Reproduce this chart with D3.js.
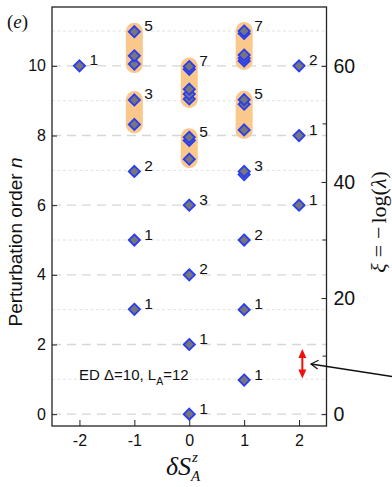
<!DOCTYPE html>
<html><head><meta charset="utf-8">
<script src="https://cdn.jsdelivr.net/npm/d3@7/dist/d3.min.js"></script>
<style>body{margin:0;background:#fff}svg{display:block}</style>
</head><body><svg id="c" width="392" height="487"></svg>
<script>
// ---- data ----
const xTicks = [-2, -1, 0, 1, 2];
const nTicks = [0, 2, 4, 6, 8, 10];
const xiTicks = [0, 20, 40, 60];
const xiMinor = [10, 30, 50];
const gridN = [0,1,2,3,4,5,6,7,8,9,10,11];
// groups: dS, perturbation levels (n), degeneracy label, highlighted cluster
const groupX = [-2, -1, -1, -1, -1, -1, 0, 0, 0, 0, 0, 0, 1, 1, 1, 1, 1, 1, 2, 2, 2];
const groupN = [
  [10],
  [10.98, 10.29, 10.05], [9.02, 8.32], [6.97], [5.0], [3.01],
  [9.98, 9.9, 9.33, 9.19, 9.05], [7.95, 7.86, 7.32], [6.0], [4.0], [2.0], [0.0],
  [11.0, 10.93, 10.31, 10.22, 10.14], [9.03, 8.9, 8.16], [6.97, 6.88], [5.0], [3.0], [0.98],
  [10], [8], [6]
];
const groupLabel = ["1", "5","3","2","1","1", "7","5","3","2","1","1", "7","5","3","2","1","1", "2","1","1"];
const groupBand = [false, true,true,false,false,false, true,true,false,false,false,false, true,true,false,false,false,false, false,false,false];

// ---- layout ----
const svg = d3.select("#c");
const L = 52, R = 326.5, T = 7, B = 426;
const x = d3.scaleLinear().domain([-2.5, 2.5]).range([L, R]);
const y = d3.scaleLinear().domain([-0.34, 11.69]).range([B, T]);
const y2 = d3.scaleLinear().domain([-0.34*6, 11.69*6]).range([B, T]);
const font = "Liberation Sans, Arial, sans-serif";
const serif = "Liberation Serif, DejaVu Serif, serif";

// grid
svg.append("g").selectAll("line").data(gridN).join("line")
  .attr("x1", L).attr("x2", R).attr("y1", d => y(d)).attr("y2", d => y(d))
  .attr("stroke", d => d % 2 === 0 ? "#d6d6d6" : "#e2e2e2")
  .attr("stroke-width", d => d % 2 === 0 ? 1.3 : 1)
  .attr("stroke-dasharray", d => d % 2 === 0 ? "9,6" : "3,2.5");

// bands
const bands = groupN.map((ns, i) => ({x: groupX[i], top: d3.max(ns), bot: d3.min(ns), on: groupBand[i]})).filter(d => d.on);
svg.append("g").selectAll("rect").data(bands).join("rect")
  .attr("x", d => x(d.x) - 8.5).attr("width", 17)
  .attr("y", d => y(d.top) - 9).attr("height", d => y(d.bot) - y(d.top) + 18)
  .attr("rx", 8.5).attr("ry", 8.5)
  .attr("fill", "#fbc88b");

// points
const pts = [];
groupN.forEach((ns, i) => ns.forEach(n => pts.push({x: groupX[i], n})));
pts.sort((a, b) => a.n - b.n);
svg.append("g").selectAll("path").data(pts).join("path")
  .attr("transform", d => `translate(${x(d.x)},${y(d.n)})`)
  .attr("d", "M0,-5.6L5.6,0L0,5.6L-5.6,0Z")
  .attr("fill", "#77777b").attr("stroke", "#2a3cf0").attr("stroke-width", 1.8);

// labels
svg.append("g").selectAll("text").data(groupN.map((ns, i) => ({x: groupX[i], n: d3.max(ns), t: groupLabel[i]}))).join("text")
  .attr("x", d => x(d.x) + 10).attr("y", d => y(d.n) - 6)
  .attr("dominant-baseline", "central")
  .attr("font-family", font).attr("font-size", 15.5).attr("fill", "#111")
  .text(d => d.t);

// frame
svg.append("rect").attr("x", L).attr("y", T).attr("width", R - L).attr("height", B - T)
  .attr("fill", "none").attr("stroke", "#222").attr("stroke-width", 1.3);

// x axis
const gx = svg.append("g").attr("transform", `translate(0,${B})`)
  .call(d3.axisBottom(x).tickValues(xTicks).tickSize(-6).tickPadding(9).tickFormat(d3.format("d")));
gx.select(".domain").remove();
gx.selectAll("line").attr("stroke", "#222");
gx.selectAll("text").attr("font-family", font).attr("font-size", 16).attr("fill", "#111").text(d => d < 0 ? "-" + Math.abs(d) : d);

// left axis
const gy = svg.append("g").attr("transform", `translate(${L},0)`)
  .call(d3.axisLeft(y).tickValues(nTicks).tickSize(-5).tickPadding(6));
gy.select(".domain").remove();
gy.selectAll("line").attr("stroke", "#222");
gy.selectAll("text").attr("font-family", font).attr("font-size", 16).attr("fill", "#111");

// right axis
const gr = svg.append("g").attr("transform", `translate(${R},0)`)
  .call(d3.axisRight(y2).tickValues(xiTicks).tickSize(-5).tickPadding(7));
gr.select(".domain").remove();
gr.selectAll("line").attr("stroke", "#222");
gr.selectAll("text").attr("font-family", font).attr("font-size", 19.5).attr("fill", "#111");
svg.append("g").selectAll("line").data(xiMinor).join("line")
  .attr("x1", R - 4).attr("x2", R).attr("y1", d => y2(d)).attr("y2", d => y2(d)).attr("stroke", "#222");

// titles
svg.append("text").attr("transform", "translate(22,242) rotate(-90)").attr("text-anchor", "middle")
  .attr("font-family", font).attr("font-size", 19).attr("fill", "#111")
  .html('Perturbation order <tspan font-style="italic">n</tspan>');

const rt = svg.append("text").attr("transform", "translate(386,222) rotate(-90)").attr("text-anchor", "middle")
  .attr("font-family", serif).attr("font-size", 22).attr("fill", "#111");
rt.append("tspan").attr("font-style", "italic").text("ξ");
rt.append("tspan").attr("dx", 6).text("=");
rt.append("tspan").attr("dx", 6).text("−");
rt.append("tspan").attr("dx", 3).text("log(");
rt.append("tspan").attr("font-style", "italic").text("λ");
rt.append("tspan").text(")");

const xt = svg.append("text").attr("x", 166).attr("y", 475)
  .attr("font-family", serif).attr("font-size", 26).attr("font-style", "italic").attr("fill", "#111");
xt.append("tspan").text("δS");
xt.append("tspan").attr("font-size", 15).attr("dy", -13).attr("dx", 1).text("z");
xt.append("tspan").attr("font-size", 15).attr("dy", 19).attr("dx", -7).text("A");

svg.append("text").attr("x", 7).attr("y", 28)
  .attr("font-family", serif).attr("font-size", 19).attr("fill", "#111")
  .html('(<tspan font-style="italic">e</tspan>)');

// annotation
const ann = svg.append("text").attr("x", 79).attr("y", 380)
  .attr("font-family", font).attr("font-size", 15).attr("fill", "#111");
ann.append("tspan").text("ED Δ=10, L");
ann.append("tspan").attr("font-size", 10.5).attr("dy", 5).text("A");
ann.append("tspan").attr("dy", -5).text("=12");

// red double arrow
const ax = x(2.06), ay1 = 349, ay2 = 378.5;
svg.append("line").attr("x1", ax).attr("x2", ax).attr("y1", ay1 + 6).attr("y2", ay2 - 6).attr("stroke", "#f01010").attr("stroke-width", 2);
svg.append("path").attr("d", `M${ax},${ay1}L${ax+4},${ay1+9}L${ax-4},${ay1+9}Z`).attr("fill", "#f01010");
svg.append("path").attr("d", `M${ax},${ay2}L${ax+4},${ay2-9}L${ax-4},${ay2-9}Z`).attr("fill", "#f01010");

// black pointer arrow
svg.append("line").attr("x1", 311).attr("y1", 364).attr("x2", 392).attr("y2", 376.5).attr("stroke", "#111").attr("stroke-width", 1.4);
svg.append("path").attr("d", "M318.5,360.2L311,364L317.6,368.9").attr("fill", "none").attr("stroke", "#111").attr("stroke-width", 1.2);
</script></body></html>
